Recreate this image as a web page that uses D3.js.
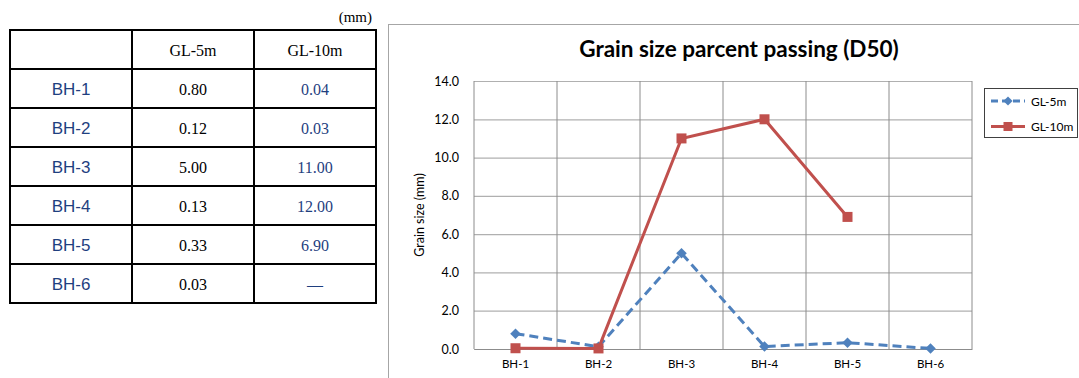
<!DOCTYPE html>
<html>
<head>
<meta charset="utf-8">
<script src="https://cdn.jsdelivr.net/npm/d3@7"></script>
<style>
  html, body { margin: 0; padding: 0; background: #fff; }
  svg { display: block; }
</style>
</head>
<body>
<svg id="fig" width="1079" height="378"></svg>
<script>
// Boreholes and D50 grain size (mm) at two depths
const boreholes = ["BH-1", "BH-2", "BH-3", "BH-4", "BH-5", "BH-6"];
const gl5m  = [0.80, 0.12, 5.00, 0.13, 0.33, 0.03];
const gl10m = [0.04, 0.03, 11.00, 12.00, 6.90, null];
const seriesNames = ["GL-5m", "GL-10m"];
const yTicks = [0, 2, 4, 6, 8, 10, 12, 14];

const blue = "#4F81BD", red = "#C0504D", navy = "#1F3F7F";
const svg = d3.select("#fig");

// ---------- summary table ----------
const tbl = { x: 10, y: 30, colX: [10, 132, 254, 376], rowH: 39 };
const nRows = boreholes.length + 1;
const tg = svg.append("g");

tg.append("text").attr("x", 372).attr("y", 22).attr("text-anchor", "end")
  .attr("font-family", "Liberation Serif").attr("font-size", 15).text("(mm)");

const rowY = d3.range(nRows + 1).map(i => tbl.y + i * tbl.rowH);
rowY.forEach(y => tg.append("line").attr("x1", tbl.colX[0] - 1).attr("x2", tbl.colX[3] + 1)
  .attr("y1", y).attr("y2", y).attr("stroke", "#000").attr("stroke-width", 2));
tbl.colX.forEach(x => tg.append("line").attr("x1", x).attr("x2", x)
  .attr("y1", tbl.y).attr("y2", rowY[nRows]).attr("stroke", "#000").attr("stroke-width", 2));

const colMid = i => (tbl.colX[i] + tbl.colX[i + 1]) / 2;
const cellY = r => tbl.y + r * tbl.rowH + tbl.rowH / 2 + 6;

seriesNames.forEach((n, j) => tg.append("text").attr("x", colMid(j + 1)).attr("y", cellY(0))
  .attr("text-anchor", "middle").attr("font-family", "Liberation Serif").attr("font-size", 16)
  .attr("fill", "#000").text(n));

boreholes.forEach((b, i) => {
  const r = i + 1;
  tg.append("text").attr("x", colMid(0)).attr("y", cellY(r)).attr("text-anchor", "middle")
    .attr("font-family", "Liberation Sans").attr("font-size", 17).attr("fill", navy).text(b);
  tg.append("text").attr("x", colMid(1)).attr("y", cellY(r)).attr("text-anchor", "middle")
    .attr("font-family", "Liberation Serif").attr("font-size", 16).attr("fill", "#000")
    .text(gl5m[i].toFixed(2));
  tg.append("text").attr("x", colMid(2)).attr("y", cellY(r)).attr("text-anchor", "middle")
    .attr("font-family", "Liberation Serif").attr("font-size", 16).attr("fill", navy)
    .text(gl10m[i] == null ? "\u2014" : gl10m[i].toFixed(2));
});

// ---------- chart ----------
const frame = { x: 388, y: 24 };
svg.append("rect").attr("x", frame.x + 0.5).attr("y", frame.y + 0.5)
  .attr("width", 1079 - frame.x + 10).attr("height", 378 - frame.y + 10)
  .attr("fill", "#fff").attr("stroke", "#a6a6a6").attr("stroke-width", 1);

const plot = { left: 474, right: 972, top: 81, bottom: 349 };
const x = d3.scaleBand().domain(boreholes).range([plot.left, plot.right]);
const y = d3.scaleLinear().domain([0, 14]).range([plot.bottom, plot.top]);
const font = "Lato, 'Open Sans', sans-serif";

svg.append("text").attr("x", 739).attr("y", 57).attr("text-anchor", "middle")
  .attr("font-family", font).attr("font-weight", "bold").attr("font-size", 22.5)
  .attr("fill", "#000").text("Grain size parcent passing (D50)");

// horizontal gridlines
const yAxis = d3.axisLeft(y).tickValues(yTicks).tickFormat(d3.format(".1f"))
  .tickSize(-(plot.right - plot.left)).tickPadding(15);
const gy = svg.append("g").attr("transform", `translate(${plot.left},0)`).call(yAxis);
gy.select(".domain").remove();
gy.selectAll(".tick line").attr("stroke", "#b0b0b0").attr("stroke-width", 1.2);
gy.selectAll(".tick text").attr("font-family", font).attr("font-size", 12.5).attr("fill", "#000");

// vertical gridlines at band edges
const edges = boreholes.map(b => x(b)).concat([plot.right]);
svg.append("g").selectAll("line").data(edges).join("line")
  .attr("x1", d => d).attr("x2", d => d).attr("y1", plot.top).attr("y2", plot.bottom)
  .attr("stroke", "#8c8c8c").attr("stroke-width", 1);

// category axis
const xAxis = d3.axisBottom(x).tickSize(0).tickPadding(11);
const gx = svg.append("g").attr("transform", `translate(0,${plot.bottom})`).call(xAxis);
gx.select(".domain").attr("stroke", "#8c8c8c");
gx.selectAll(".tick text").attr("font-family", font).attr("font-size", 11.5).attr("fill", "#000");

svg.append("text").attr("transform", `translate(424,${(plot.top + plot.bottom) / 2}) rotate(-90)`)
  .attr("text-anchor", "middle").attr("font-family", font).attr("font-size", 12.5)
  .attr("fill", "#000").text("Grain size (mm)");

const cx = b => x(b) + x.bandwidth() / 2;
const line = d3.line().defined(d => d.v != null).x(d => cx(d.b)).y(d => y(d.v));
const pts5 = boreholes.map((b, i) => ({ b, v: gl5m[i] }));
const pts10 = boreholes.map((b, i) => ({ b, v: gl10m[i] })).filter(d => d.v != null);

// square marker turned 45 degrees = diamond
const diamond = s => d3.symbol().type(d3.symbolSquare).size(s);

svg.append("path").datum(pts5).attr("d", line).attr("fill", "none")
  .attr("stroke", blue).attr("stroke-width", 3).attr("stroke-dasharray", "9,5");
svg.append("g").selectAll("path").data(pts5).join("path")
  .attr("d", diamond(56))
  .attr("transform", d => `translate(${cx(d.b)},${y(d.v)}) rotate(45)`).attr("fill", blue);

svg.append("path").datum(pts10).attr("d", line).attr("fill", "none")
  .attr("stroke", red).attr("stroke-width", 3);
svg.append("g").selectAll("rect").data(pts10).join("rect")
  .attr("x", d => cx(d.b) - 5).attr("y", d => y(d.v) - 5)
  .attr("width", 10).attr("height", 10).attr("fill", red);

// legend
const lg = svg.append("g");
lg.append("rect").attr("x", 984.5).attr("y", 88.5).attr("width", 93).attr("height", 49)
  .attr("fill", "#fff").attr("stroke", "#404040").attr("stroke-width", 1);
const legendItems = [
  { name: seriesNames[0], color: blue, dash: "7,4", mark: "diamond" },
  { name: seriesNames[1], color: red, dash: null, mark: "square" }
];
legendItems.forEach((it, i) => {
  const ly = 101 + i * 25.5;
  lg.append("line").attr("x1", 991).attr("x2", 1025).attr("y1", ly).attr("y2", ly)
    .attr("stroke", it.color).attr("stroke-width", 3).attr("stroke-dasharray", it.dash);
  if (it.mark === "diamond") {
    lg.append("path").attr("d", diamond(42))
      .attr("transform", `translate(1008,${ly}) rotate(45)`).attr("fill", it.color);
  } else {
    lg.append("rect").attr("x", 1003.5).attr("y", ly - 4.5).attr("width", 9).attr("height", 9)
      .attr("fill", it.color);
  }
  lg.append("text").attr("x", 1031).attr("y", ly + 4.5).attr("font-family", font)
    .attr("font-size", 12).attr("fill", "#000").text(it.name);
});
</script>
</body>
</html>
